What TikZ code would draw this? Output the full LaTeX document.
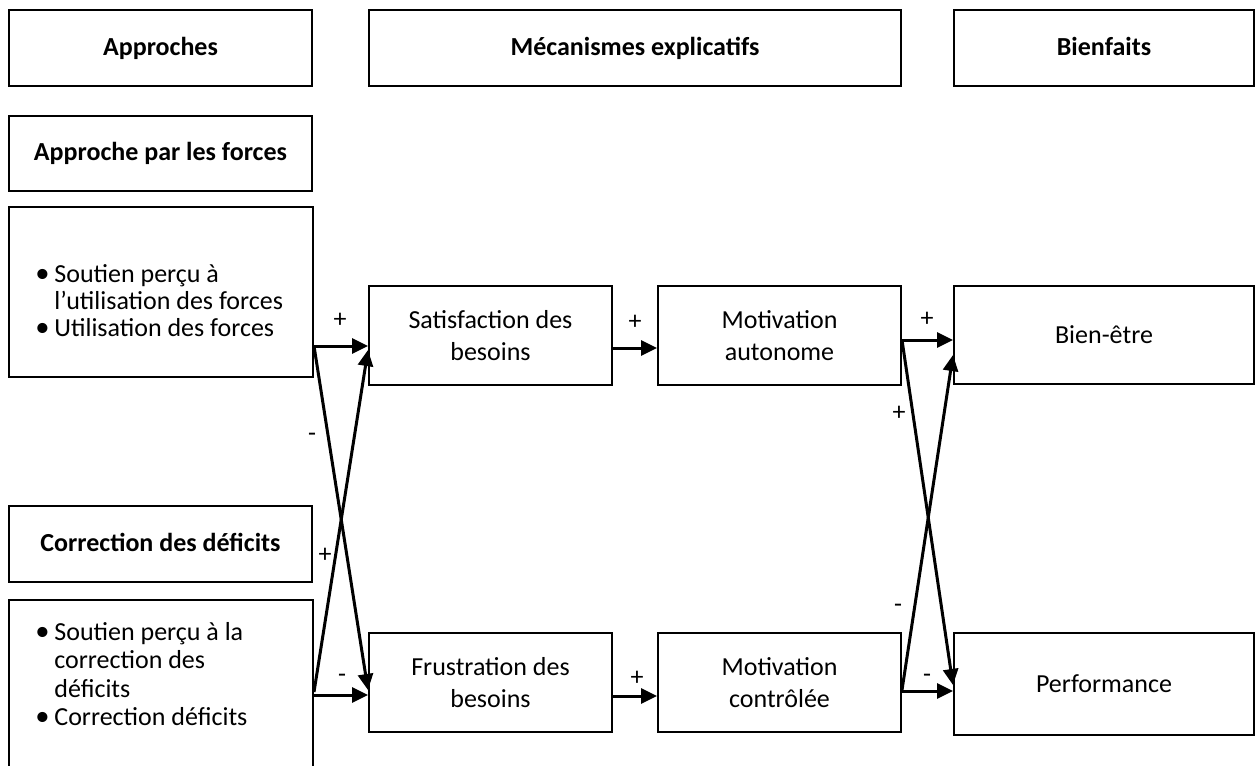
\documentclass[tikz,border=0pt]{standalone}
\usepackage{fontspec}
\setmainfont{Carlito}
\usetikzlibrary{arrows.meta}

\tikzset{
  box/.style={draw,line width=1pt,inner sep=2pt,align=center},
  hd/.style={box,minimum height=38pt,text height=0.9em,text depth=0.2em,
    font=\fontsize{13}{16}\selectfont\bfseries},
  arr/.style={line width=1.5pt,-{Triangle[length=8pt,width=7.5pt]}},
  sgn/.style={inner sep=0pt},
  item/.style={anchor=base west,inner sep=0pt}
}
\newcommand{\bul}{\makebox[9.5pt][l]{\scalebox{1.1}{\textbullet}}}

\begin{document}
\begin{tikzpicture}
[x=0.5pt,y=-0.5pt,font=\fontsize{13}{16}\selectfont]
\useasboundingbox (0,0) rectangle (1255,766);

% column heads
\node[hd,minimum width=151.5pt] (appr) at (160.5,48) {Approches};
\node[hd,minimum width=266pt] (meca) at (635,48) {Mécanismes explicatifs};
\node[hd,minimum width=150pt] (bien) at (1104,48) {Bienfaits};

% left column
\node[hd,minimum width=151.5pt,minimum height=37.5pt] (forces) at (160.5,153.5) {Approche par les forces};
\node[box,minimum width=152pt,minimum height=85pt] (lstF) at (161,292) {};
\node[item] (f1) at (35,282) {\bul Soutien perçu à};
\node[item] (f2) at (54,309) {l’utilisation des forces};
\node[item] (f3) at (35,336) {\bul Utilisation des forces};

\node[hd,minimum width=151.5pt] (defic) at (160.5,544) {Correction des déficits};
\node[box,minimum width=152pt,minimum height=100pt] (lstD) at (161,700) {};
\node[item] (d1) at (35,640) {\bul Soutien perçu à la};
\node[item] (d2) at (54,668) {correction des};
\node[item] (d3) at (54,697) {déficits};
\node[item] (d4) at (35,725) {\bul Correction déficits};

% middle and right
\node[box,minimum width=121.5pt,minimum height=49.5pt] (sat) at (490.5,335.5) {Satisfaction des\\besoins};
\node[box,minimum width=121.5pt,minimum height=49.5pt] (motA) at (779.5,335.5) {Motivation\\autonome};
\node[box,minimum width=150pt,minimum height=49pt] (bnetre) at (1104,335) {Bien-être};
\node[box,minimum width=121.5pt,minimum height=49.5pt] (fru) at (490.5,682.5) {Frustration des\\besoins};
\node[box,minimum width=121.5pt,minimum height=49.5pt] (motC) at (779.5,682.5) {Motivation\\contrôlée};
\node[box,minimum width=150pt,minimum height=51pt] (perf) at (1104,684) {Performance};

% links
\draw[arr] ([yshift=-27pt]lstF.east) -- ([yshift=-5.25pt]sat.west);
\draw[arr] ([yshift=-27pt]lstF.east) -- ([yshift=-3.75pt]fru.west);
\draw[arr] ([yshift=4pt]lstD.east) -- ([yshift=-7.25pt]sat.west);
\draw[arr] ([yshift=2.5pt]lstD.east) -- ([yshift=-6.25pt]fru.west);
\draw[arr] ([yshift=-6.25pt]sat.east) -- ([yshift=-6.25pt]motA.west);
\draw[arr] ([yshift=-6.75pt]fru.east) -- ([yshift=-6.75pt]motC.west);
\draw[arr] ([yshift=-2.25pt]motA.east) -- ([yshift=-2.5pt]bnetre.west);
\draw[arr] ([yshift=-2.25pt]motA.east) -- ([yshift=-0.5pt]perf.west);
\draw[arr] ([yshift=-3.75pt]motC.east) -- ([yshift=-10pt]bnetre.west);
\draw[arr] ([yshift=-4.25pt]motC.east) -- ([yshift=-3.5pt]perf.west);

% signs
\node[sgn] (s1) at (340,320) {+};
\node[sgn] (s2) at (312,437) {-};
\node[sgn] (s3) at (325,555) {+};
\node[sgn] (s4) at (342,678) {-};
\node[sgn] (s5) at (635,322) {+};
\node[sgn] (s6) at (637,678) {+};
\node[sgn] (s7) at (927,319) {+};
\node[sgn] (s8) at (899,413) {+};
\node[sgn] (s9) at (898,608) {-};
\node[sgn] (s10) at (927,678) {-};

\end{tikzpicture}
\end{document}
